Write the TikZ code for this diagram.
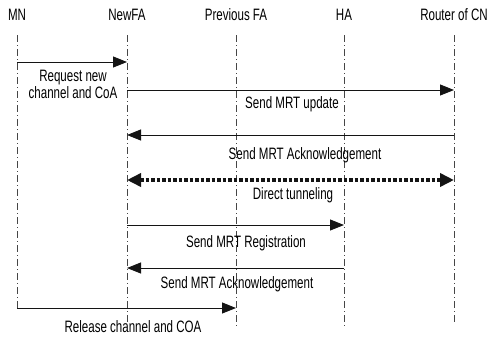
\documentclass[tikz,border=0pt]{standalone}
\usepackage{fontspec}
\setmainfont{Liberation Sans}[FakeStretch=0.7]
\usepackage{tikz}
\usetikzlibrary{arrows.meta, positioning, calc}
\definecolor{MsgBlack}{RGB}{20,20,20}
\definecolor{LifeGray}{RGB}{70,70,70}

\begin{document}
\begin{tikzpicture}[x=1pt, y=-1pt,
    head/.style={font=\fontsize{16.5}{17}\selectfont, inner sep=0pt},
    lbl/.style={font=\fontsize{16.5}{17}\selectfont, inner sep=0pt, align=center},
    life/.style={LifeGray, line width=0.6pt, dash pattern=on 7pt off 3pt on 1pt off 3pt},
    msg/.style={MsgBlack, line width=0.9pt, -{Triangle[length=14pt, width=11pt]}},
    tunnel/.style={MsgBlack, line width=3.5pt, dash pattern=on 3.5pt off 2pt,
                   {Triangle[length=14pt, width=13pt]}-{Triangle[length=14pt, width=13pt]}}]
  \useasboundingbox (0,0) rectangle (493,338);
  % Lifelines with their heads
  \foreach \id/\xx/\name/\bot in {
    mn/17/MN/310,
    nfa/127/NewFA/325,
    pfa/236/Previous FA/328,
    ha/344/HA/328,
    cn/454/Router of CN/325
  } {
    \node[head] (\id) at (\xx, 15) {\name};
    \coordinate (\id top) at (\xx, 35);
    \coordinate (\id bot) at (\xx, \bot);
    \draw[life] (\id top) -- (\id bot);
  }
  % Message end points
  \foreach \id/\xx in {mn/17, nfa/127, pfa/236, ha/344, cn/454} {
    \foreach \k/\yy in {1/62, 2/90, 3/135, 4/180, 5/225, 6/268, 7/308} {
      \coordinate (\id\k) at (\xx, \yy);
    }
  }
  % Messages
  \draw[msg] (mn1) -- (nfa1);
  \node[lbl] (req) at (73, 84) {Request new\\channel and CoA};
  \draw[msg] (nfa2) -- (cn2);
  \node[lbl] (upd) at (292, 104) {Send MRT update};
  \draw[msg] (cn3) -- (nfa3);
  \node[lbl] (ack1) at (305, 155) {Send MRT Acknowledgement};
  \draw[tunnel] (nfa4) -- (cn4);
  \node[lbl] (tun) at (293, 195) {Direct tunneling};
  \draw[msg] (nfa5) -- (ha5);
  \node[lbl] (reg) at (246, 243) {Send MRT Registration};
  \draw[msg] (ha6) -- (nfa6);
  \node[lbl] (ack2) at (237, 284) {Send MRT Acknowledgement};
  \draw[msg] (mn7) -- (pfa7);
  \node[lbl] (rel) at (133, 327) {Release channel and COA};
\end{tikzpicture}
\end{document}
